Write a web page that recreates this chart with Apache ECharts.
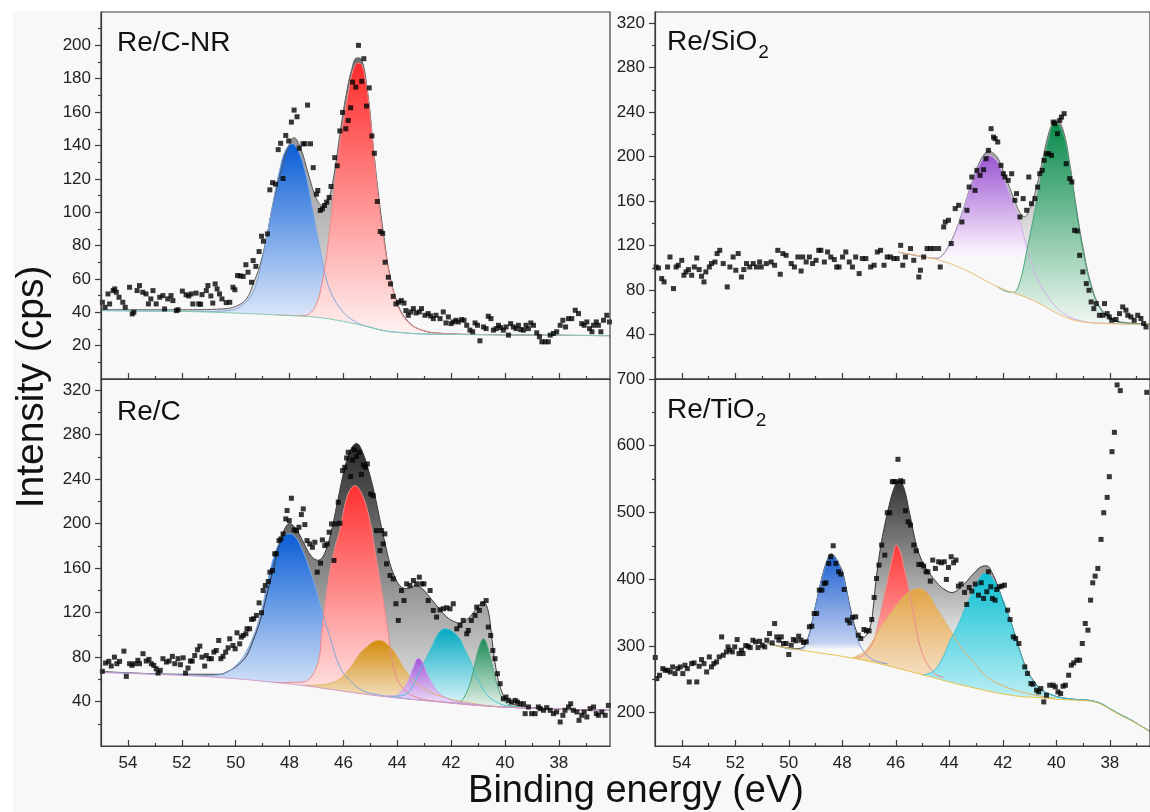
<!DOCTYPE html>
<html>
<head>
<meta charset="utf-8">
<script src="https://cdn.jsdelivr.net/npm/echarts@6/dist/echarts.min.js"></script>
<style>
  html, body { margin: 0; padding: 0; background: #f8f8f8; }
  #chart { width: 1150px; height: 812px; }
</style>
</head>
<body>
<div id="chart"></div>
<script>
// ---- tick positions (binding energy, eV) ----
const xMajor = [54, 52, 50, 48, 46, 44, 42, 40, 38];
const xMinor = [53, 51, 49, 47, 45, 43, 41, 39, 37];
const tlYMajor = [20, 40, 60, 80, 100, 120, 140, 160, 180, 200];
const tlYMinor = [10, 30, 50, 70, 90, 110, 130, 150, 170, 190, 210];
const midYMajor = [40, 80, 120, 160, 200, 240, 280, 320];
const midYMinor = [20, 60, 100, 140, 180, 220, 260, 300];
const brYMajor = [200, 300, 400, 500, 600, 700];
const brYMinor = [250, 350, 450, 550, 650];

// ---- Re/C-NR (top left) ----
const tlPoints = [[54.95,46],[54.85,43],[54.74,51],[54.68,45],[54.55,53],[54.49,54],[54.43,52],[54.33,49],[54.19,46],[54.1,43],[53.94,55],[53.84,39],[53.78,40],[53.66,53],[53.57,56],[53.45,52],[53.33,51],[53.24,45],[53.15,48],[53.07,53],[52.95,45],[52.82,49],[52.7,50],[52.64,42],[52.52,48],[52.4,50],[52.33,47],[52.2,41],[52.14,41.5],[51.98,52.7],[51.84,50.5],[51.74,49.8],[51.65,51],[51.59,45],[51.47,51.5],[51.37,45],[51.3,44.8],[51.25,50.6],[51.09,53],[51.03,56],[50.92,49.8],[50.85,45.5],[50.76,57],[50.69,54],[50.6,51],[50.51,48],[50.35,45.8],[50.22,46],[50.1,55],[50.03,53.5],[49.93,62],[49.83,61.8],[49.72,61.5],[49.62,68.5],[49.54,64],[49.41,58],[49.35,71],[49.25,67.5],[49.13,76.4],[49.04,85.6],[48.97,82.6],[48.82,87],[48.73,113.4],[48.63,117.7],[48.52,116.8],[48.42,137.5],[48.33,141.3],[48.24,120.2],[48.14,146],[48.03,142.7],[47.93,154],[47.83,161.2],[47.72,157.2],[47.64,138.3],[47.5,141],[47.42,141],[47.33,164.2],[47.22,141],[47.12,126.7],[47.0,110.8],[46.95,113],[46.86,101],[46.78,102],[46.7,104],[46.62,106],[46.53,108.8],[46.46,115.4],[46.32,132.7],[46.23,127.8],[46.13,148.7],[46.03,159.8],[45.91,150],[45.82,155],[45.73,162.6],[45.66,178],[45.54,175],[45.44,200],[45.32,178.5],[45.24,192],[45.14,163.6],[45.04,174.5],[44.94,145.7],[44.85,135.3],[44.74,106.4],[44.63,88.4],[44.54,87.3],[44.45,70],[44.33,61],[44.25,57],[44.15,49.5],[44.05,45],[43.95,46],[43.85,47],[43.75,45.5],[43.68,41],[43.59,38.2],[43.5,40.2],[43.4,42.2],[43.3,39.6],[43.18,40.2],[43.1,42.2],[42.97,38.2],[42.85,39.2],[42.76,37.8],[42.66,36.2],[42.56,38.2],[42.41,36.2],[42.29,40.2],[42.19,33.6],[42.1,37.2],[42.0,33.2],[41.92,34.2],[41.82,35.2],[41.73,34.2],[41.61,35.6],[41.52,35.2],[41.42,32.2],[41.3,29.3],[41.2,28.3],[41.11,33.6],[41.02,32.2],[40.93,22.9],[40.8,31.2],[40.7,30.2],[40.62,37.6],[40.52,36.2],[40.43,29.3],[40.33,30.2],[40.24,32.2],[40.16,30.8],[40.06,29.3],[39.96,31.2],[39.87,26.3],[39.79,33.2],[39.69,31.2],[39.59,30.2],[39.5,32.2],[39.41,29.6],[39.31,29.3],[39.22,32.2],[39.13,30.2],[39.04,33.6],[38.94,32.2],[38.82,27.7],[38.72,25.3],[38.63,22.3],[38.51,22.3],[38.39,22.3],[38.32,26.3],[38.2,27.3],[38.08,28.3],[37.95,32.2],[37.85,35.2],[37.75,31.2],[37.64,36.2],[37.52,36.2],[37.39,41.2],[37.27,39.2],[37.15,33.2],[37.06,32.2],[36.96,34.2],[36.86,30.2],[36.77,28.3],[36.71,32.2],[36.61,34.2],[36.53,32.2],[36.44,28.3],[36.34,35.2],[36.22,38.2],[36.12,34.2]];
const tlEnvelope = [[55,41.5],[52,41.5],[50.5,42],[50,43.5],[49.6,48],[49.35,57],[49.1,68],[48.85,85],[48.61,105],[48.24,129],[48.0,141],[47.84,144.7],[47.6,139],[47.3,123],[47.0,108],[46.75,104],[46.55,108],[46.35,122],[46.1,150],[45.9,170],[45.7,185],[45.5,192.5],[45.35,192],[45.1,172],[44.9,141],[44.7,111],[44.5,86],[44.27,62],[43.96,44],[43.6,34.5],[43.2,30],[42.5,27.5],[40,26.5],[36.1,26]];
const tlBlue = [[55,41],[51,40.5],[50.3,41],[50.0,42],[49.7,45],[49.42,50],[49.18,60],[48.99,73],[48.8,89],[48.62,105],[48.37,125],[48.15,137],[47.9,141],[47.68,137],[47.43,125],[47.18,105],[47.0,89],[46.81,73],[46.62,59],[46.38,49],[46.1,42],[45.8,37],[45.4,33],[45,31],[44.5,29],[44,28],[43,27],[40,26.5],[36.1,26]];
const tlRed = [[48.5,38.5],[47.5,38],[47.2,40],[46.95,47],[46.8,57],[46.65,71],[46.45,98],[46.32,118],[46.1,145],[45.94,160],[45.8,173],[45.64,185],[45.45,189.5],[45.32,188.5],[45.2,181],[45.08,168.5],[44.89,139],[44.71,109],[44.52,85],[44.27,61],[44.1,50],[43.96,43],[43.6,34],[43.2,30],[42.5,27.5],[40,26.5],[36.1,26]];
const tlBackground = [[55,41],[52,40.5],[50,39.5],[48,38],[47,37],[46,34.5],[45,31],[44.5,29],[44,28],[43,27],[40,26.5],[36.1,26]];

// ---- Re/SiO2 (top right) ----
const trPoints = [[54.96,100.7],[54.87,99.8],[54.75,90.3],[54.66,87.3],[54.53,100.7],[54.44,109.7],[54.31,81.3],[54.21,100.7],[54.13,102.3],[54.0,106.7],[53.92,93.3],[53.84,96.3],[53.75,98.4],[53.63,93.3],[53.53,100.7],[53.44,108.8],[53.35,98.4],[53.26,92.4],[53.17,87.3],[53.1,96.3],[52.97,100.7],[52.89,103.8],[52.76,105.2],[52.68,112.8],[52.58,115.7],[52.45,103.8],[52.3,82.8],[52.2,100.7],[52.08,109.7],[51.98,97.8],[51.89,112.8],[51.77,91.7],[51.68,98.4],[51.58,103.8],[51.46,100.7],[51.33,103.8],[51.21,100.7],[51.09,105.2],[51.03,100.7],[50.84,103.8],[50.66,105.2],[50.53,102.3],[50.41,115.7],[50.32,94.2],[50.22,112.8],[50.1,111.2],[49.91,103.8],[49.79,100.7],[49.66,109.7],[49.54,97.1],[49.48,109.7],[49.35,105.2],[49.23,109.7],[49.11,103.8],[48.98,106.7],[48.88,115.7],[48.8,115.7],[48.67,105.2],[48.55,114.2],[48.43,109.7],[48.3,107.4],[48.21,100.7],[48.12,100.7],[47.99,109.7],[47.87,114.2],[47.74,105.2],[47.62,100.7],[47.5,109.7],[47.37,94.8],[47.25,108.3],[47.12,108.3],[46.94,100.7],[46.81,102.3],[46.69,114.2],[46.57,115.7],[46.44,102.3],[46.32,109.7],[46.2,109.7],[46.07,108.3],[45.95,108.3],[45.82,120.2],[45.74,102.3],[45.64,109.7],[45.45,117.3],[45.33,106.7],[45.14,91.7],[45.08,97.8],[44.96,109.7],[44.83,117.3],[44.71,117.3],[44.58,117.3],[44.4,117.3],[44.34,100.7],[44.21,136.7],[44.15,141.2],[44.03,142.7],[43.93,121.8],[43.78,153.2],[43.65,156.2],[43.53,141.2],[43.34,151.7],[43.26,172.6],[43.16,181.6],[43.04,169.6],[42.97,187.6],[42.85,183.1],[42.72,188.2],[42.63,198.1],[42.54,205.6],[42.44,225.1],[42.35,217.5],[42.29,216.1],[42.19,213.1],[42.07,192.1],[41.98,184.6],[41.92,181.6],[41.8,178.6],[41.67,184.6],[41.55,160.7],[41.49,166.7],[41.36,145.7],[41.24,162.2],[41.11,151.7],[41.03,181.6],[40.93,157.7],[40.8,162.2],[40.7,172.6],[40.62,184.6],[40.53,187.6],[40.46,196.6],[40.37,202.6],[40.28,202.6],[40.18,201.1],[40.12,231],[40.06,229.6],[39.96,220.6],[39.87,232.5],[39.81,235.5],[39.71,238.6],[39.63,193.6],[39.5,180.2],[39.42,177.1],[39.32,133.7],[39.22,133.1],[39.13,111.2],[39.01,96.3],[38.88,85.8],[38.78,79.8],[38.7,69.3],[38.6,63.3],[38.51,67.8],[38.39,57.3],[38.26,57.3],[38.2,67.8],[38.1,58.8],[38.02,55.8],[37.93,52.8],[37.77,53.5],[37.64,58.8],[37.52,64.8],[37.4,61.9],[37.33,57.3],[37.21,55.8],[37.09,52.8],[36.96,57.3],[36.84,54.4],[36.74,49.9],[36.65,46.8]];
const trEnvelope = [[45.9,114],[45,110],[44.5,108.5],[44.27,111],[44.0,121],[43.78,132],[43.5,151],[43.28,168],[43.1,181],[42.91,193],[42.7,202],[42.54,205],[42.35,203],[42.17,198],[41.9,182],[41.6,163],[41.35,149],[41.2,146],[41.05,150],[40.8,167],[40.56,192],[40.31,219],[40.1,232],[40.0,233],[39.75,224],[39.5,194],[39.26,155],[39.01,119],[38.7,85],[38.33,63],[37.9,54],[37.5,51],[36.5,49.5]];
const trPurple = [[45.9,114],[45,110],[44.5,108.5],[44.27,111],[44.0,120],[43.78,131],[43.5,150],[43.28,167],[43.1,180],[42.91,191],[42.7,199],[42.54,201],[42.35,199],[42.17,194],[41.8,170],[41.42,146],[41.11,119],[40.9,102],[40.68,89],[40.4,77],[40.06,66],[39.6,57],[39.19,53],[38.8,51],[38,50],[36.5,49]];
const trGreen = [[42.2,83],[41.9,79],[41.6,78],[41.38,86],[41.1,116],[40.8,152],[40.56,183],[40.31,214],[40.04,231],[39.75,221],[39.5,191],[39.26,152],[39.01,116],[38.7,83],[38.33,62],[37.9,53],[37.5,50.5],[36.5,49]];
const trBackground = [[45.9,114],[44.4,107],[43.4,98],[42.2,83],[40.9,71],[39.7,56],[38.9,51],[37.5,49.5],[36.5,49]];

// ---- Re/C (bottom left) ----
const blPoints = [[54.95,67.1],[54.83,74.6],[54.71,76.1],[54.62,71.9],[54.5,79.9],[54.41,74],[54.31,76.1],[54.15,85.3],[54.06,62.6],[53.94,74],[53.85,72.5],[53.75,74],[53.63,77],[53.57,74],[53.44,83],[53.32,76.4],[53.22,77.9],[53.13,74],[53.04,72.5],[52.95,69.5],[52.88,65.6],[52.8,68],[52.7,78.5],[52.57,75.5],[52.47,76.4],[52.35,80.6],[52.26,74],[52.14,78.5],[52.05,73.1],[51.95,79.3],[51.86,65.6],[51.77,70.1],[51.68,76.4],[51.61,76.4],[51.52,81.4],[51.42,86.5],[51.33,89.8],[51.25,79.9],[51.15,71.9],[51.09,81.4],[50.99,78.5],[50.9,78.5],[50.81,84.4],[50.72,85.9],[50.63,94.9],[50.55,78.5],[50.47,80.6],[50.37,84.4],[50.28,88.3],[50.22,96.4],[50.1,90.4],[50.02,87.4],[49.95,101.8],[49.85,91.9],[49.79,97.9],[49.72,99.4],[49.62,100.9],[49.58,105.4],[49.48,105.4],[49.41,113.8],[49.33,114.4],[49.23,117.4],[49.13,128.7],[49.04,119.8],[48.98,139.8],[48.9,144.3],[48.79,147.9],[48.73,156.3],[48.63,157.8],[48.55,172.8],[48.49,172.8],[48.39,184.7],[48.32,186.2],[48.24,190.7],[48.14,204.2],[48.09,211.7],[48.01,202.7],[47.93,222.8],[47.83,194.3],[47.74,193.7],[47.65,196.7],[47.56,208.1],[47.49,213.2],[47.43,199.1],[47.35,184.7],[47.25,181.7],[47.15,178.7],[47.06,183.2],[46.97,156.3],[46.85,164.4],[46.78,185.3],[46.69,180.2],[46.6,181.7],[46.53,192.2],[46.44,199.7],[46.35,166.8],[46.28,199.7],[46.19,219.2],[46.13,200.3],[46.03,247.6],[45.95,250.6],[45.88,259],[45.82,264.1],[45.73,242.2],[45.66,257.2],[45.6,266.2],[45.51,260.2],[45.41,264.1],[45.33,244],[45.26,252.7],[45.18,250.6],[45.11,253.6],[44.99,226.6],[44.89,225.1],[44.77,193.7],[44.64,175.7],[44.58,193.7],[44.52,181.7],[44.46,190.7],[44.4,163.8],[44.27,153.3],[44.15,150.3],[44.05,127.9],[43.96,112.9],[43.84,139.8],[43.75,130.8],[43.65,145.8],[43.53,144.3],[43.4,148.8],[43.28,145.8],[43.18,151.8],[43.09,145.8],[43.01,145.8],[42.85,130.8],[42.78,139.8],[42.66,121.9],[42.54,115.9],[42.41,122.5],[42.29,123.4],[42.17,124.3],[42.04,123.4],[41.92,127.9],[41.79,105.4],[41.67,108.4],[41.55,112.9],[41.42,100.9],[41.36,103.9],[41.25,112.9],[41.11,117.4],[41.05,124.9],[40.95,121.9],[40.83,127.9],[40.7,130.8],[40.62,106.9],[40.53,99.4],[40.45,85.9],[40.37,78.5],[40.28,65],[40.18,56],[40.06,42.5],[39.96,44],[39.87,41],[39.75,39.5],[39.62,41],[39.54,39.5],[39.44,38],[39.31,38],[39.25,29.1],[39.13,35.1],[39.01,29.1],[38.88,29.1],[38.76,35.1],[38.69,33.6],[38.57,32.1],[38.45,34.5],[38.32,32.1],[38.2,29.1],[38.08,30.6],[37.95,21.6],[37.85,27.6],[37.77,32.1],[37.64,35.1],[37.56,38],[37.46,32.1],[37.33,30.6],[37.25,23.1],[37.15,27.6],[37.06,30.6],[36.96,26.1],[36.84,33.6],[36.71,35.1],[36.61,29.1],[36.53,27.6],[36.4,30.6],[36.28,27.6],[36.16,36.5]];
const blEnvelope = [[55,67],[52,64.5],[50.6,64.5],[50.22,68],[49.9,73],[49.6,81],[49.35,95],[49.1,112],[48.85,135],[48.61,158],[48.4,180],[48.24,192],[48.0,200],[47.75,195],[47.5,184],[47.2,171],[46.94,167],[46.7,173],[46.45,193],[46.2,222],[45.95,250],[45.72,267],[45.51,272],[45.3,265],[45.02,244],[44.8,222],[44.64,203],[44.45,182],[44.27,164],[44.05,150],[43.85,143],[43.6,141.5],[43.35,144],[43.1,142],[42.8,134],[42.5,125],[42.16,116],[41.9,112],[41.67,110.5],[41.4,114],[41.17,120],[40.95,127],[40.8,129.5],[40.68,126],[40.58,116],[40.5,100],[40.43,85],[40.3,65],[40.18,53],[40.0,43],[39.8,38.5],[39.3,35.5],[38,33],[36.1,32]];
const blBlue = [[55,66.5],[52,64],[51,63.5],[50.6,64],[50.34,66],[50.1,70],[49.85,76],[49.6,85],[49.35,98],[49.15,112],[48.98,128],[48.8,149],[48.61,168],[48.4,182],[48.24,188],[48.0,191],[47.75,187],[47.55,178],[47.37,167],[47.1,148],[46.87,128],[46.5,98],[46.13,71],[45.76,59],[45.3,50],[44.8,46.5],[44,43.5],[42.5,40],[40,35],[38,33],[36.1,32]];
const blRed = [[48.5,57],[47.5,57.5],[47.2,62],[47.0,71],[46.87,83],[46.81,101],[46.69,126],[46.5,157],[46.3,180],[46.13,194],[45.85,225],[45.57,234],[45.3,226],[45.02,203],[44.77,167],[44.52,131],[44.33,101],[44.21,79],[44.0,60],[43.7,50],[43.3,44],[42.5,40],[40,35],[36.1,32]];
const blOrange = [[47.5,54.5],[46.8,55],[46.4,57],[46.13,60.5],[45.9,66],[45.64,74],[45.4,83],[45.14,89],[44.9,93.5],[44.64,95],[44.4,92],[44.15,86],[43.95,78],[43.78,71],[43.6,64.5],[43.4,59],[43.15,54],[42.91,50],[42.41,45],[41.5,39.5],[40,35],[36.1,32]];
const blPurple = [[44.6,45],[44.1,45],[43.9,47.5],[43.75,52],[43.59,59],[43.4,71],[43.22,79],[43.05,75],[42.91,66],[42.7,56],[42.54,50],[42.35,45.5],[42.17,43],[41.8,40],[41,37],[40,35],[36.1,32]];
const blCyan = [[44.5,44.5],[43.9,45],[43.6,48],[43.4,55],[43.25,63],[43.09,71],[42.9,80],[42.72,89],[42.45,102],[42.23,105.5],[41.95,103],[41.67,96],[41.5,87],[41.3,77],[41.1,65],[40.93,56],[40.7,47],[40.43,41],[39.9,36],[38,33],[36.1,32]];
const blGreen = [[41.8,38],[41.6,41],[41.45,47],[41.3,56],[41.17,68],[41.03,83],[40.9,93],[40.8,96.5],[40.7,93],[40.58,83],[40.47,72],[40.37,62],[40.25,52],[40.12,44],[39.9,37.5],[39.5,35],[38,33],[36.1,32]];
const blBackground = [[55,66],[52,63.5],[50,60.5],[48.5,57],[47.5,54.5],[46.5,51],[45.5,47.5],[44.5,44.5],[43.5,42],[42.4,39.5],[41,36.5],[40,35],[38,33],[36.1,32]];

// ---- Re/TiO2 (bottom right) ----
const brPoints = [[54.99,282.6],[54.93,251],[54.83,256],[54.71,266],[54.62,263.5],[54.53,263.5],[54.43,261],[54.34,268.5],[54.25,258.5],[54.15,266],[54.06,268.5],[53.96,258.5],[53.88,271],[53.79,266],[53.72,246],[53.63,273.5],[53.54,274.5],[53.44,246],[53.35,269.5],[53.26,279.5],[53.17,273.5],[53.07,261],[52.97,283.5],[52.89,268.5],[52.8,273.5],[52.7,276],[52.6,283.5],[52.51,313.5],[52.45,286],[52.33,291],[52.27,298.5],[52.21,293.5],[52.11,291],[52.02,298.5],[51.93,309.5],[51.86,288.5],[51.77,293.5],[51.71,288.5],[51.61,300.5],[51.52,299.5],[51.44,297.5],[51.34,308.5],[51.24,306],[51.15,297.5],[51.09,307],[50.99,301],[50.9,298.5],[50.82,308.5],[50.72,318.5],[50.62,304.5],[50.53,333.5],[50.45,313.5],[50.37,308.5],[50.28,313.6],[50.2,303.6],[50.1,303.6],[50.0,287.1],[49.91,301.1],[49.83,309.6],[49.73,307.6],[49.63,314.6],[49.54,308.6],[49.45,305.1],[49.35,306.1],[49.23,328.6],[49.14,329.6],[49.05,348.6],[48.96,348.6],[48.86,383.6],[48.76,383.6],[48.67,393.6],[48.61,394.6],[48.51,423.6],[48.43,433.6],[48.34,450.1],[48.24,423.6],[48.14,411.1],[48.05,407.6],[47.93,384.6],[47.81,338.6],[47.72,334.6],[47.62,342.6],[47.5,343.6],[47.4,316.1],[47.31,311.1],[47.19,324.6],[47.1,322.6],[47.0,322.6],[46.9,339.6],[46.81,372.6],[46.72,401.1],[46.63,421.1],[46.53,451.1],[46.41,436.1],[46.32,499.6],[46.23,499.6],[46.13,546.1],[46.07,546.1],[46.01,546.1],[45.92,579.6],[45.82,547.6],[45.74,546.1],[45.64,502.6],[45.54,486.1],[45.45,481.1],[45.33,451.1],[45.24,442.6],[45.14,422.1],[45.04,422.1],[44.96,419.6],[44.87,411.1],[44.8,411.1],[44.71,397.1],[44.62,428.6],[44.52,416.1],[44.4,426.1],[44.3,424.6],[44.19,426.1],[44.11,399.6],[44.03,417.6],[43.93,433.6],[43.84,424.6],[43.75,428.6],[43.66,389.6],[43.56,392.6],[43.43,380.1],[43.35,362.1],[43.26,387.6],[43.16,382.1],[43.03,392.6],[42.91,376.1],[42.81,394.6],[42.72,371.1],[42.6,381.1],[42.54,411.1],[42.45,388.6],[42.39,371.1],[42.29,368.6],[42.23,384.6],[42.14,388.6],[42.04,389.6],[41.94,391.1],[41.82,353.6],[41.73,339.6],[41.61,313.6],[41.52,311.1],[41.4,303.6],[41.18,268.6],[41.08,258.6],[40.95,243.6],[40.87,242.6],[40.74,233.6],[40.66,231.1],[40.58,236.1],[40.47,216.1],[40.37,226.1],[40.25,241.1],[40.12,241.1],[40.04,238.6],[39.94,231.1],[39.84,228.6],[39.75,239.6],[39.66,241.1],[39.54,256.1],[39.44,271.1],[39.35,274.6],[39.23,278.6],[39.13,278.6],[39.03,303.6],[38.92,333.6],[38.82,323.6],[38.72,368.6],[38.64,394.6],[38.55,404.6],[38.45,416.1],[38.33,459.6],[38.23,499.6],[38.1,522.6],[38.02,553.6],[37.92,591.1],[37.83,620.1],[37.73,691.1],[37.61,682.6],[36.62,680]];
const brEnvelope = [[50.8,304],[50.35,299.5],[49.8,296],[49.5,297],[49.35,306],[49.22,320],[49.11,340],[48.93,373],[48.74,406],[48.55,430],[48.42,438],[48.3,435],[48.14,424],[47.99,411],[47.84,384],[47.68,353],[47.45,320],[47.25,312],[47.1,316],[46.94,331],[46.85,355],[46.75,395],[46.62,435],[46.5,464],[46.26,509],[46.05,538],[45.88,548],[45.7,537],[45.5,502],[45.3,463],[45.14,439],[44.9,418],[44.65,404],[44.4,392],[44.2,385],[43.9,380],[43.65,385],[43.41,394],[43.1,408],[42.79,419],[42.6,420],[42.42,411],[42.2,391],[42.0,368],[41.73,340],[41.42,300],[41.22,276],[41.05,260],[40.8,245],[40.56,234],[40.2,227],[39.8,222.5],[39.2,219.5],[38.7,218],[38.3,213],[37.96,205],[37.6,197],[37.21,189],[36.9,181.5],[36.5,172]];
const brBlue = [[50.8,304],[50.35,299],[49.8,295],[49.5,295],[49.35,304],[49.22,318],[49.11,339],[48.93,372],[48.74,404],[48.55,428],[48.4,436],[48.25,431],[48.1,420],[47.99,409],[47.84,381],[47.68,349],[47.52,322],[47.37,304],[47.22,293],[47.05,285],[46.8,278],[46.3,273]];
const brRed = [[47.5,281.5],[47.2,286],[47.06,292],[46.93,299],[46.81,309],[46.7,326],[46.57,349],[46.4,380],[46.25,409],[46.1,437],[45.98,451],[45.84,442],[45.7,419],[45.51,384],[45.3,340],[45.1,300],[44.85,275],[44.5,257],[44.2,253]];
const brOrange = [[47.6,282],[47.19,291],[46.9,305],[46.63,324],[46.3,343],[46.01,359],[45.75,372],[45.5,381],[45.14,386],[44.8,378],[44.52,359],[44.2,339],[43.9,319],[43.6,300],[43.28,284],[42.96,269],[42.66,256],[42.3,246],[41.92,239],[41.5,233],[41.0,228],[40.5,224],[40,221]];
const brCyan = [[45.0,256],[44.6,262],[44.3,278],[43.96,309],[43.78,323],[43.59,339],[43.38,360],[43.16,379],[42.9,400],[42.66,409],[42.4,402],[42.1,379],[41.9,359],[41.73,339],[41.42,299],[41.22,275],[41.05,259],[40.8,244],[40.56,234],[40.2,227],[39.8,222.5],[39.2,219.5],[38.7,218],[38.3,213],[37.96,205],[37.6,197],[37.21,189],[36.9,181.5],[36.5,172]];
const brBackground = [[50.8,304],[50.35,299],[49.1,291],[47.25,279],[45.4,261],[43.5,241],[41.7,226],[40.5,222],[39.9,220],[39.2,218.5],[38.7,217],[38.3,212],[37.96,204],[37.6,196],[37.21,188],[36.9,181],[36.5,171]];

// ---- styling ----
const FONT = 'Arial, "Liberation Sans", Helvetica, sans-serif';
const PLOT_BG = '#f8f8f8';
const AXIS_COLOR = '#3c3c3c';

const chart = echarts.init(document.getElementById('chart'), null, { renderer: 'canvas' });

// one entry per panel: where the grid sits and how its axes run
const panels = [
  { left: 101, top: 12,  width: 509, xMin: 36.1, yMin: 0,   yMax: 220, yMajor: tlYMajor,  yMinor: tlYMinor,  xLabels: false },
  { left: 655, top: 12,  width: 498, xMin: 36.5, yMin: 0,   yMax: 330, yMajor: midYMajor, yMinor: midYMinor, xLabels: false },
  { left: 101, top: 379, width: 509, xMin: 36.1, yMin: 0,   yMax: 330, yMajor: midYMajor, yMinor: midYMinor, xLabels: true },
  { left: 655, top: 379, width: 498, xMin: 36.5, yMin: 150, yMax: 700, yMajor: brYMajor,  yMinor: brYMinor,  xLabels: true }
];

const grids = [], xAxes = [], yAxes = [];
panels.forEach((p, i) => {
  grids.push({ left: p.left, top: p.top, width: p.width, height: 367, show: true,
    borderColor: AXIS_COLOR, borderWidth: 1.2, backgroundColor: 'transparent', z: 10 });
  const lineStyle = { color: AXIS_COLOR, width: 1.2 };
  const labelStyle = { fontSize: 17, color: '#222', fontFamily: FONT };
  // main x axis (labels + long ticks) and a second one carrying only the minor ticks
  xAxes.push({ type: 'value', gridIndex: i, position: 'bottom', min: p.xMin, max: 55, inverse: true, z: 10,
    axisLine: { show: true, onZero: false, lineStyle },
    axisTick: { show: true, inside: true, length: 6, customValues: xMajor, lineStyle },
    axisLabel: { show: p.xLabels, customValues: xMajor, margin: 9, ...labelStyle },
    splitLine: { show: false } });
  xAxes.push({ type: 'value', gridIndex: i, position: 'bottom', min: p.xMin, max: 55, inverse: true, z: 10,
    axisLine: { show: false },
    axisTick: { show: true, inside: true, length: 3, customValues: xMinor, lineStyle },
    axisLabel: { show: false }, splitLine: { show: false } });
  yAxes.push({ type: 'value', gridIndex: i, position: 'left', min: p.yMin, max: p.yMax, z: 10,
    axisLine: { show: true, onZero: false, lineStyle },
    axisTick: { show: true, length: 6, customValues: p.yMajor, lineStyle },
    axisLabel: { customValues: p.yMajor, margin: 10, ...labelStyle },
    splitLine: { show: false } });
  yAxes.push({ type: 'value', gridIndex: i, position: 'left', min: p.yMin, max: p.yMax, z: 10,
    axisLine: { show: false },
    axisTick: { show: true, length: 3, customValues: p.yMinor, lineStyle },
    axisLabel: { show: false }, splitLine: { show: false } });
});

// fitted component: filled from the curve down, fading to a pale tint at the background level.
// Fits that start inside the plot (openStart) fade out at their starting level instead,
// so their vertical left edge leaves no seam; below that the fill is the plot colour.
function fit(panel, data, lineColor, topColor, endColor, openStart) {
  const vals = data.map(d => d[1]);
  const peak = Math.max(...vals);
  const base = openStart ? data[0][1] : Math.min(...vals);
  const yMin = panels[panel].yMin;
  const off = Math.min(0.97, Math.max(0.1, (peak - base) / (peak - yMin)));
  return {
    type: 'line', xAxisIndex: panel * 2, yAxisIndex: panel * 2, data,
    symbol: 'none', smooth: 0.4, silent: true, z: 2,
    lineStyle: { color: lineColor, width: 1 },
    areaStyle: { opacity: 1, color: new echarts.graphic.LinearGradient(0, 0, 0, 1, [
      { offset: 0, color: topColor }, { offset: off, color: endColor },
      { offset: Math.min(1, off + 0.03), color: PLOT_BG }, { offset: 1, color: PLOT_BG }]) }
  };
}

// background line; its area is painted in the plot colour so nothing shows below it
function background(panel, data, lineColor) {
  return {
    type: 'line', xAxisIndex: panel * 2, yAxisIndex: panel * 2, data,
    symbol: 'none', smooth: 0.4, silent: true, z: 2,
    lineStyle: { color: lineColor, width: 1 },
    areaStyle: { opacity: 1, color: PLOT_BG }
  };
}

function points(panel, data) {
  return {
    type: 'scatter', xAxisIndex: panel * 2, yAxisIndex: panel * 2, data,
    symbol: 'rect', symbolSize: 5, itemStyle: { color: '#050505' }, silent: true, z: 4
  };
}

const series = [
  // Re/C-NR
  fit(0, tlEnvelope, '#5a5a5a', '#6e6e6e', '#efefef'),
  fit(0, tlBlue, '#7ea6e0', '#0a5ed6', '#f3f6fd'),
  fit(0, tlRed, '#ec8a8a', '#ff2a2a', '#fff3f3'),
  background(0, tlBackground, '#86ccb4'),
  points(0, tlPoints),
  // Re/SiO2
  fit(1, trEnvelope, '#6a6a6a', '#8a8a8a', '#ededed', true),
  fit(1, trPurple, '#cfaee8', '#9a55d2', '#fbf1fd', true),
  fit(1, trGreen, '#4ca57c', '#078a4a', '#f1f8f3'),
  background(1, trBackground, '#ecbd74'),
  points(1, trPoints),
  // Re/C
  fit(2, blEnvelope, '#3a3a3a', '#2a2a2a', '#efefef'),
  fit(2, blBlue, '#7ea6e0', '#0a5ed6', '#f3f6fd'),
  fit(2, blRed, '#ec8a8a', '#ff3030', '#fff2f2'),
  fit(2, blCyan, '#45c2d2', '#03a9c2', '#ebfbfd'),
  fit(2, blGreen, '#4ca57c', '#1b8a55', '#eff7f2'),
  fit(2, blOrange, '#e2b066', '#d28c0c', '#fbf1e6'),
  fit(2, blPurple, '#c9a2ea', '#a057d8', '#f9f0fd'),
  background(2, blBackground, '#d39cc8'),
  points(2, blPoints),
  // Re/TiO2
  fit(3, brEnvelope, '#3a3a3a', '#333333', '#eeeeee', true),
  fit(3, brBlue, '#6e98de', '#1a5fd2', '#c4d0f0', true),
  fit(3, brRed, '#ec8a8a', '#ff3838', '#ffd2d2'),
  fit(3, brOrange, '#e2b066', '#e2a445', '#fbeee4'),
  fit(3, brCyan, '#45c2d2', '#0cbfd2', '#ebfbfd'),
  background(3, brBackground, '#e8c24a'),
  points(3, brPoints)
];

// width of the main part of a label with a subscript
const measureCtx = document.createElement('canvas').getContext('2d');
function textWidth(str, size) {
  measureCtx.font = size + 'px ' + FONT;
  return measureCtx.measureText(str).width;
}
const LABEL_SIZE = 28;
function label(x, y, str) {
  return { type: 'text', x, y, z: 20, style: { text: str, fontSize: LABEL_SIZE, fontFamily: FONT, fill: '#111', align: 'left', verticalAlign: 'middle' } };
}
function subscript(x, y, base, sub) {
  return { type: 'text', x: x + textWidth(base, LABEL_SIZE) + 1, y: y + 11, z: 20,
    style: { text: sub, fontSize: 19, fontFamily: FONT, fill: '#111', align: 'left', verticalAlign: 'middle' } };
}

chart.setOption({
  animation: false,
  backgroundColor: PLOT_BG,
  grid: grids,
  xAxis: xAxes,
  yAxis: yAxes,
  series,
  graphic: [
    { type: 'rect', shape: { x: 0, y: 0, width: 1150, height: 11 }, style: { fill: '#ffffff' }, z: 0 },
    { type: 'rect', shape: { x: 0, y: 0, width: 13, height: 812 }, style: { fill: '#ffffff' }, z: 0 },
    label(117, 43, 'Re/C-NR'),
    label(667, 42, 'Re/SiO'),
    subscript(667, 42, 'Re/SiO', '2'),
    label(117, 412, 'Re/C'),
    label(667, 410, 'Re/TiO'),
    subscript(667, 410, 'Re/TiO', '2'),
    { type: 'text', x: 32, y: 387, rotation: Math.PI / 2, z: 20,
      style: { text: 'Intensity (cps)', fontSize: 39, fontFamily: FONT, fill: '#111', align: 'center', verticalAlign: 'middle' } },
    { type: 'text', x: 636, y: 792, z: 20,
      style: { text: 'Binding energy (eV)', fontSize: 38, fontFamily: FONT, fill: '#111', align: 'center', verticalAlign: 'middle' } }
  ]
});
</script>
</body>
</html>
